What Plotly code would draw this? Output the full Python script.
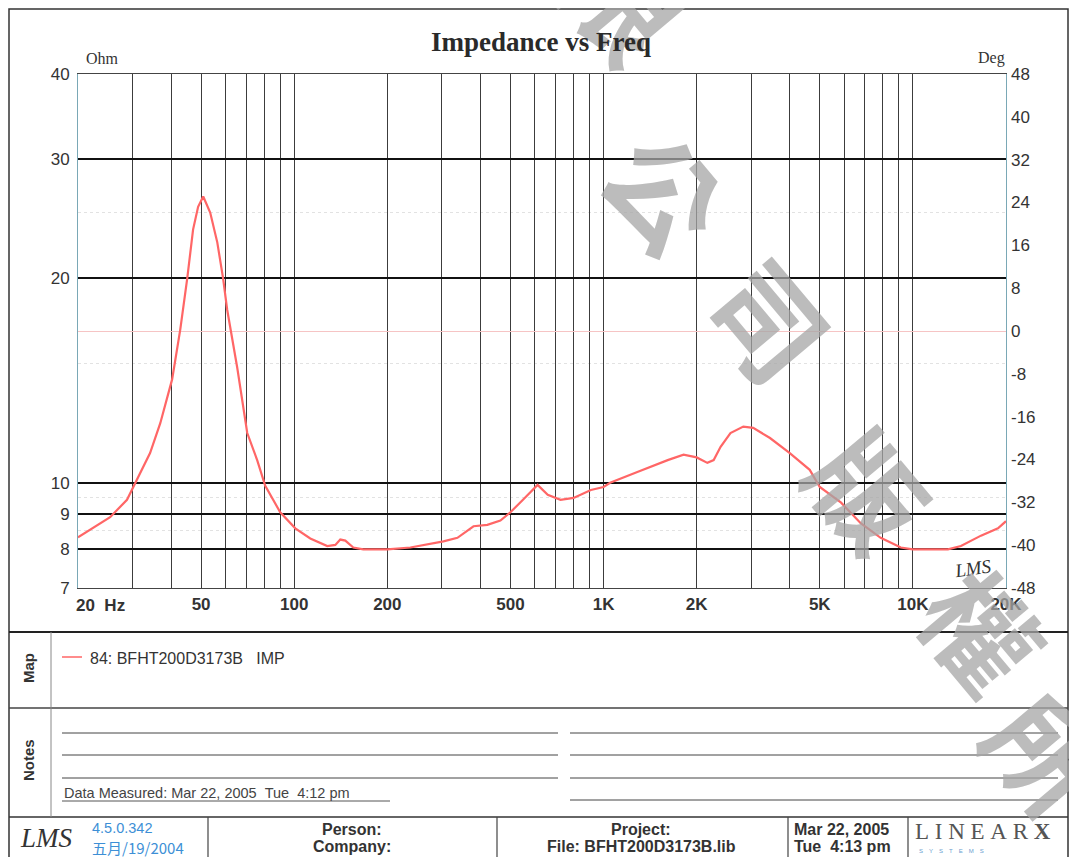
import plotly.graph_objects as go

# ---------------- data ----------------
freq_hz = [20, 22.5, 25.4, 28.8, 30.6, 34.2, 36.9, 40.3, 42.8, 45.1, 47.1, 48.9, 50.8,
           53.5, 56.4, 58.9, 60.7, 65.4, 70.5, 75.9, 80.6, 90.1, 100.8, 112.7,
           127.9, 135.8, 140.9, 146.3, 155.2, 167.2, 200, 237.4, 303.7, 337,
           379.8, 421, 464, 500, 550, 612, 660, 726, 800, 910, 1000, 1050, 1286,
           1612, 1814, 2000, 2166, 2270, 2390, 2572, 2830, 3046, 3452, 4000, 4640,
           5000, 5860, 6780, 7870, 9140, 10000, 12980, 14300, 16600, 18840, 20000]
impedance_ohm = [8.31, 8.6, 8.9, 9.44, 10.0, 11.06, 12.24, 14.2, 16.8, 20.0, 23.6, 25.5, 26.4,
                 25.0, 22.6, 20.0, 18.0, 14.8, 11.84, 10.8, 9.9, 9.05, 8.57, 8.28,
                 8.07, 8.1, 8.25, 8.22, 8.03, 7.98, 7.98, 8.03, 8.2, 8.3,
                 8.63, 8.67, 8.8, 9.05, 9.45, 9.93, 9.6, 9.44, 9.5, 9.76, 9.86, 10.0, 10.37,
                 10.8, 11.0, 10.9, 10.7, 10.8, 11.3, 11.84, 12.1, 12.05, 11.64, 11.06, 10.45,
                 9.86, 9.35, 8.72, 8.3, 8.03, 7.98, 7.98, 8.07, 8.36, 8.57, 8.78]

ohm_ticks = [7, 8, 9, 10, 20, 30, 40]
ohm_faint = [8.5, 9.5, 15, 25]
deg_ticks = [-48, -40, -32, -24, -16, -8, 0, 8, 16, 24, 32, 40, 48]
freq_grid = [20, 30, 40, 50, 60, 70, 80, 90,
             100, 200, 300, 400, 500, 600, 700, 800, 900,
             1000, 2000, 3000, 4000, 5000, 6000, 7000, 8000, 9000,
             10000, 20000]
freq_label_map = {50: "50", 100: "100", 200: "200", 500: "500", 1000: "1K",
                  2000: "2K", 5000: "5K", 10000: "10K", 20000: "20K"}
freq_text = [freq_label_map.get(f, "") for f in freq_grid]

series_name = "84: BFHT200D3173B\u00a0\u00a0\u00a0IMP"
watermark_chars = ["限", "公", "司", "版", "權", "所"]

# ---------------- layout helpers ----------------
# the page body has an 8 px margin, so the figure covers reference pixels 8..1077 x 8..857
OFF = 8
W, H = 1077 - OFF, 857 - OFF
L, R, T, B = 78, 1006, 74, 588   # plot area in reference pixels


def px(x):
    return (x - L) / (R - L)


def py(y):
    return (B - y) / (B - T)


INK = "#2b2b2b"
SANS = "Liberation Sans, Arial, sans-serif"
SERIF = "Liberation Serif, Times New Roman, serif"
CURVE = "#ff6666"

fig = go.Figure()
fig.add_trace(go.Scatter(x=freq_hz, y=impedance_ohm, mode="lines",
                         line=dict(color=CURVE, width=2.2),
                         name=series_name, showlegend=False, hoverinfo="skip"))
# phase axis carrier (no visible marks)
fig.add_trace(go.Scatter(x=[freq_grid[0]], y=[0], yaxis="y2", mode="lines",
                         line=dict(width=0), showlegend=False, hoverinfo="skip"))

fig.update_layout(
    width=W, height=H,
    margin=dict(l=L - OFF, r=1077 - R, t=T - OFF, b=857 - B, pad=0, autoexpand=False),
    paper_bgcolor="white", plot_bgcolor="white",
    showlegend=False,
    xaxis=dict(type="log", range=[1.30103, 4.30103],
               tickvals=freq_grid, ticktext=freq_text, ticks="",
               showgrid=True, gridcolor="#3c3c3c", gridwidth=1.2,
               showline=True, linecolor="#444", linewidth=1.2, mirror=True,
               tickfont=dict(family=SANS, size=17, color="#333", weight="bold"),
               zeroline=False),
    yaxis=dict(type="log", range=[0.845098, 1.60206],
               tickvals=ohm_ticks, ticktext=[str(v) for v in ohm_ticks], ticks="",
               showgrid=True, gridcolor="#111", gridwidth=1.6,
               showline=True, linecolor="#7aa8b6", linewidth=1, mirror=True,
               tickfont=dict(family=SANS, size=17, color="#333"),
               ticklabelstandoff=4,
               minor=dict(tickvals=ohm_faint, showgrid=True, gridcolor="#e2e2e2",
                          griddash="dot", gridwidth=1, ticks=""),
               zeroline=False),
    yaxis2=dict(overlaying="y", side="right", range=[-48, 48],
                tickvals=deg_ticks, ticktext=[str(v) for v in deg_ticks], ticks="",
                showgrid=False, zeroline=True, zerolinecolor="#f6c4c4", zerolinewidth=1,
                showline=False, ticklabelstandoff=4,
                tickfont=dict(family=SANS, size=17, color="#333")),
)

shapes = []


def hline(y, x0, x1, w=1.2, c="#333"):
    shapes.append(dict(type="line", xref="paper", yref="paper",
                       x0=px(x0), x1=px(x1), y0=py(y), y1=py(y),
                       line=dict(color=c, width=w)))


def vline(x, y0, y1, w=1.2, c="#333"):
    shapes.append(dict(type="line", xref="paper", yref="paper",
                       x0=px(x), x1=px(x), y0=py(y0), y1=py(y1),
                       line=dict(color=c, width=w)))


# outer frame
shapes.append(dict(type="rect", xref="paper", yref="paper",
                   x0=px(9), x1=px(1068), y0=py(9), y1=py(870),
                   line=dict(color="#333", width=1.5), layer="below"))
hline(632, 9, 1068, 2.2, "#222")
hline(708, 9, 1068, 1.3, "#444")
hline(817, 9, 1068, 1.6, "#333")
vline(51, 632, 817, 1, "#888")
for xx in [208, 497, 788, 908]:
    vline(xx, 817, 870, 1.2, "#444")
for yy in [733, 755, 778]:
    hline(yy, 62, 558, 1, "#444")
for yy in [733, 755, 778, 800]:
    hline(yy, 570, 1058, 1, "#444")
hline(801, 62, 390, 1, "#555")
hline(657, 62, 82, 1.5, CURVE)

fig.update_layout(shapes=shapes)

ann = []

# watermark first so that all other texts sit on top of it
wm_pos = [(626, 0), (668, 190), (772, 318), (872, 488), (985, 628), (1050, 752)]
for ch, (wx, wy) in zip(watermark_chars, wm_pos):
    ann.append(dict(xref="paper", yref="paper", x=px(wx), y=py(wy), text=ch,
                    showarrow=False, xanchor="center", yanchor="middle", textangle=50,
                    font=dict(family="Noto Sans CJK TC, sans-serif", size=112, weight="bold",
                              color="rgba(165,165,165,0.75)")))


def text(x, y, s, size=16, family=SANS, color=INK, xa="left", ya="middle", angle=0, bold=False):
    f = dict(family=family, size=size, color=color)
    if bold:
        f["weight"] = "bold"
    ann.append(dict(xref="paper", yref="paper", x=px(x), y=py(y), text=s,
                    showarrow=False, xanchor=xa, yanchor=ya, textangle=angle, font=f))


text(541, 42, "Impedance vs Freq", 27, SERIF, "#2a2a2a", "center", bold=True)
text(84, 58, "Ohm", 16, SERIF, "#333")
text(1007, 58, "Deg", 16, SERIF, "#333", "right")
text(74, 605, "20\u00a0\u00a0Hz", 17, SANS, "#333", bold=True)
text(972, 568, "<i>LMS</i>", 19, SERIF, "#333", "center", angle=-8)
text(28, 668, "Map", 15, SANS, "#333", "center", angle=-90, bold=True)
text(28, 760, "Notes", 15, SANS, "#333", "center", angle=-90, bold=True)
text(88, 658, series_name, 16, SANS, "#333")
text(62, 793, "Data Measured: Mar 22, 2005\u00a0\u00a0Tue\u00a0\u00a04:12 pm", 14.5, SANS, "#444")
# footer
text(46, 838, "<i>LMS</i>", 27, SERIF, "#333", "center")
text(90, 828, "4.5.0.342", 14.5, SANS, "#3d8fd6")
text(90, 847, "五月/19/2004", 15, "Noto Sans CJK SC, sans-serif", "#3d8fd6")
text(352, 829, "Person:", 16, SANS, "#333", "center", bold=True)
text(352, 846, "Company:", 16, SANS, "#333", "center", bold=True)
text(641, 829, "Project:", 16, SANS, "#333", "center", bold=True)
text(641, 846, "File: BFHT200D3173B.lib", 16, SANS, "#333", "center", bold=True)
text(792, 829, "Mar 22, 2005", 16, SANS, "#333", bold=True)
text(792, 846, "Tue\u00a0\u00a04:13 pm", 16, SANS, "#333", bold=True)
text(913, 831, "L\u2005I\u2005N\u2005E\u2005A\u2005R\u2005<b>X</b>", 23, SERIF, "#555")
text(917, 851, "S\u2003Y\u2003S\u2003T\u2003E\u2003M\u2003S", 6, SANS, "#6aa0d0")

fig.update_layout(annotations=ann)
fig.write_html("out.html")
